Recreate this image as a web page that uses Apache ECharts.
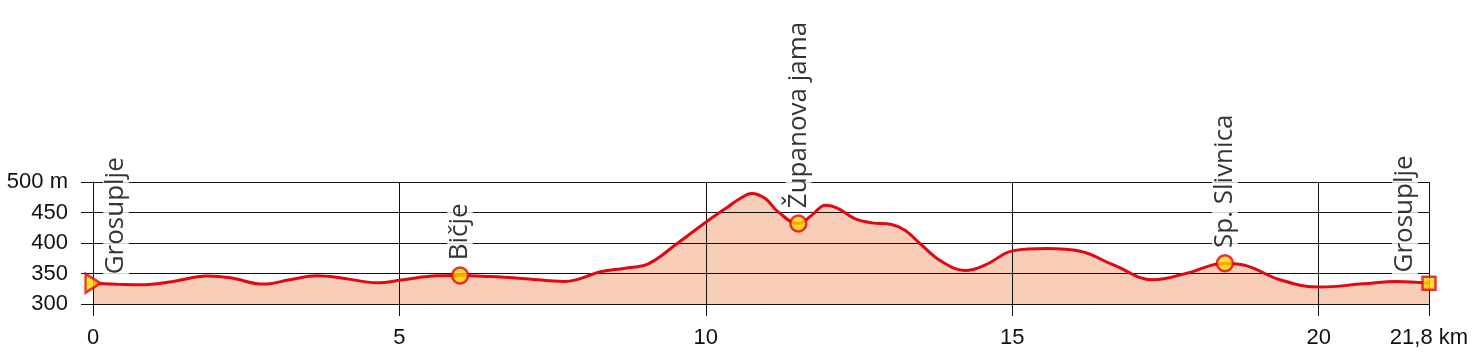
<!DOCTYPE html>
<html>
<head>
<meta charset="utf-8">
<script src="https://cdn.jsdelivr.net/npm/echarts@6/dist/echarts.min.js"></script>
<style>
  html, body { margin: 0; padding: 0; background: #fff; }
  #chart { width: 1476px; height: 359px; }
</style>
</head>
<body>
<div id="chart"></div>
<script>
// Profile: distance (km) and elevation (m)
const distanceKm = [0, 0.4, 0.77, 1.31, 1.86, 2.24, 2.78, 3.21, 3.65, 4.08, 4.63, 5.06, 5.61, 5.99, 6.48, 7.0, 7.70, 8.30, 8.68, 9.06, 9.50, 10.01, 10.37, 10.56, 10.75, 10.97, 11.18, 11.51, 11.73, 11.95, 12.16, 12.43, 12.71, 13.03, 13.25, 13.52, 13.85, 14.23, 14.56, 15.02, 15.56, 16.11, 16.65, 17.30, 17.85, 18.47, 18.83, 19.37, 20.02, 20.73, 21.27, 21.8];
const elevation = [334, 332.5, 331.5, 337, 345.7, 343, 332.6, 339.7, 346.2, 342.4, 334.8, 339.7, 346.2, 346.7, 345, 342, 337, 353.3, 358.7, 365.8, 396.7, 434.8, 460, 473, 481, 472.8, 451, 432, 445.7, 462, 456.5, 440, 433, 430.4, 421, 396.7, 369.6, 355, 364, 387.5, 390.8, 386.4, 364, 339.7, 350.5, 366.8, 362.5, 339.7, 327.7, 333, 336.9, 334];

// Waypoints
const waypointNames = ['Grosuplje', 'Bičje', 'Županova jama', 'Sp. Slivnica', 'Grosuplje'];
const waypointKm = [0, 5.99, 11.51, 18.47, 21.8];
const waypointElev = [334, 346.7, 432, 366.8, 334];
const waypointSymbols = ['triangle', 'circle', 'circle', 'circle', 'rect'];

// Axis settings
const xMin = 0, xMax = 21.8, xInterval = 5;
const yMin = 300, yMax = 500, yInterval = 50;

const profile = distanceKm.map((d, i) => [d, elevation[i]]);

const RED = '#e30613';
const YELLOW = '#ffd500';
const INK = '#111111';

const labelBase = {
  show: true,
  formatter: '{b}',
  rotate: 90,
  position: 'top',
  distance: 4,
  align: 'left',
  verticalAlign: 'middle',
  fontSize: 26,
  fontFamily: 'Open Sans',
  color: '#000000',
  backgroundColor: '#ffffff',
  padding: [0, 2]
};

const symbolSpecs = {
  triangle: { symbolSize: [19, 15], symbolRotate: -90 },
  circle: { symbolSize: 16, symbolRotate: 0 },
  rect: { symbolSize: 13, symbolRotate: 0 }
};
const labelOffsets = [[-8, 23], [0, 0], [0, 0], [0, 0], [-3, -24]];

const waypointData = waypointNames.map((n, i) => ({
  name: n,
  value: [waypointKm[i], waypointElev[i]],
  symbol: waypointSymbols[i],
  symbolSize: symbolSpecs[waypointSymbols[i]].symbolSize,
  symbolRotate: symbolSpecs[waypointSymbols[i]].symbolRotate,
  label: Object.assign({}, labelBase, { offset: labelOffsets[i] })
}));

const SMOOTH = 0.4;

const chart = echarts.init(document.getElementById('chart'), null, { renderer: 'canvas' });
chart.setOption({
  animation: false,
  backgroundColor: '#ffffff',
  grid: { left: 93, right: 47, top: 182, bottom: 55, containLabel: false },
  xAxis: {
    type: 'value',
    min: xMin, max: xMax, interval: xInterval,
    z: 3,
    axisLine: { show: true, onZero: false, lineStyle: { color: INK, width: 1 } },
    axisTick: { show: true, length: 12, lineStyle: { color: INK, width: 1 } },
    splitLine: { show: true, lineStyle: { color: INK, width: 1 } },
    axisLabel: {
      margin: 23,
      fontSize: 22,
      fontFamily: 'Liberation Sans',
      color: INK,
      showMaxLabel: true,
      formatter: v => (Math.abs(v - xMax) < 1e-9 ? '21,8 km' : String(v))
    }
  },
  yAxis: {
    type: 'value',
    min: yMin, max: yMax, interval: yInterval,
    z: 3,
    axisLine: { show: true, lineStyle: { color: INK, width: 1 } },
    axisTick: { show: true, length: 12, lineStyle: { color: INK, width: 1 } },
    splitLine: { show: true, lineStyle: { color: INK, width: 1 } },
    axisLabel: {
      margin: 25,
      fontSize: 22,
      fontFamily: 'Liberation Sans',
      color: INK,
      formatter: v => (v === yMax ? v + ' m' : String(v))
    }
  },
  series: [
    {
      type: 'line',
      data: profile,
      z: 2,
      smooth: SMOOTH,
      showSymbol: false,
      lineStyle: { width: 0, opacity: 0 },
      areaStyle: { color: '#f8cdb8', opacity: 1, origin: 'start' },
      silent: true
    },
    {
      type: 'line',
      data: profile,
      z: 4,
      smooth: SMOOTH,
      showSymbol: false,
      lineStyle: { color: RED, width: 3 },
      silent: true
    },
    {
      type: 'scatter',
      data: waypointData,
      z: 5,
      itemStyle: { color: YELLOW, borderColor: RED, borderWidth: 2.5 }
    }
  ]
});
</script>
</body>
</html>
